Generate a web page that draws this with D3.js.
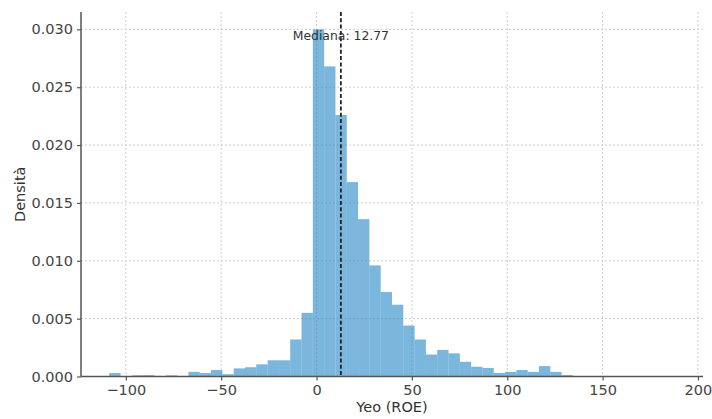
<!DOCTYPE html>
<html>
<head>
<meta charset="utf-8">
<script src="https://cdn.jsdelivr.net/npm/d3@7"></script>
<style>
  body { margin: 0; background: #fff; }
  text { font-family: "DejaVu Sans", sans-serif; }
</style>
</head>
<body>
<script>
// histogram of Yeo-transformed ROE, 50 equal bins
var binMin = -108.67;
var binMax = 187.83;
var densities = [
  0.0003, 0, 0.0001, 0.00012, 0, 0.0001, 0, 0.0004, 0.0003, 0.00056,
  0.0002, 0.0007, 0.0008, 0.00105, 0.0014, 0.0014, 0.0032, 0.0055, 0.0300, 0.0268,
  0.0226, 0.0168, 0.0136, 0.0096, 0.0073, 0.0062, 0.0044, 0.0032, 0.0019, 0.0023,
  0.0020, 0.00127, 0.00084, 0.00074, 0.0003, 0.0004, 0.00056, 0.0004, 0.0009, 0.0004,
  0.00012, 0, 0, 0, 0, 0, 0, 0, 0, 0
];
var xTicks = [-100, -50, 0, 50, 100, 150, 200];
var yTicks = [0, 0.005, 0.010, 0.015, 0.020, 0.025, 0.030];
var median = 12.77;

var width = 712;
var height = 419;
var margin = {top: 12, right: 9, bottom: 42.5, left: 81};

var svg = d3.select('body').append('svg')
    .attr('width', width)
    .attr('height', height);

var span = binMax - binMin;
var x = d3.scaleLinear()
    .domain([binMin - span * 0.05, binMax + span * 0.05])
    .range([margin.left, width - margin.right]);
var y = d3.scaleLinear()
    .domain([0, 0.0300 * 1.05])
    .range([height - margin.bottom, margin.top]);

var bw = span / densities.length;

// grid
svg.append('g').selectAll('line').data(xTicks).enter().append('line')
    .attr('x1', function(d){ return x(d); })
    .attr('x2', function(d){ return x(d); })
    .attr('y1', margin.top)
    .attr('y2', height - margin.bottom)
    .attr('stroke', '#cfcfcf')
    .attr('stroke-width', 1)
    .attr('stroke-dasharray', '2,2');
svg.append('g').selectAll('line').data(yTicks.slice(1)).enter().append('line')
    .attr('x1', margin.left)
    .attr('x2', width - margin.right)
    .attr('y1', function(d){ return y(d); })
    .attr('y2', function(d){ return y(d); })
    .attr('stroke', '#cfcfcf')
    .attr('stroke-width', 1)
    .attr('stroke-dasharray', '2,2');

// bars
svg.append('g').selectAll('rect').data(densities).enter().append('rect')
    .attr('x', function(d, i){ return x(binMin + i * bw); })
    .attr('width', function(d, i){ return x(binMin + (i + 1) * bw) - x(binMin + i * bw); })
    .attr('y', function(d){ return y(d); })
    .attr('height', function(d){ return y(0) - y(d); })
    .attr('fill', '#2386c6')
    .attr('fill-opacity', 0.6);

// median line
svg.append('line')
    .attr('x1', x(median))
    .attr('x2', x(median))
    .attr('y1', margin.top)
    .attr('y2', height - margin.bottom)
    .attr('stroke', '#222')
    .attr('stroke-width', 1.8)
    .attr('stroke-dasharray', '4,2.3');

svg.append('text')
    .attr('x', x(median))
    .attr('y', 40)
    .attr('text-anchor', 'middle')
    .attr('font-size', '12.4px')
    .attr('fill', '#333')
    .text('Mediana: ' + median);

// axes
var xAxis = d3.axisBottom(x).tickValues(xTicks).tickSize(4).tickPadding(4)
    .tickFormat(d3.format('d'));
var yAxis = d3.axisLeft(y).tickValues(yTicks).tickSize(4).tickPadding(4)
    .tickFormat(d3.format('.3f'));

var gx = svg.append('g')
    .attr('transform', 'translate(0,' + (height - margin.bottom) + ')')
    .call(xAxis);
var gy = svg.append('g')
    .attr('transform', 'translate(' + margin.left + ',0)')
    .call(yAxis);

[gx, gy].forEach(function(g){
    g.select('.domain').attr('stroke', '#555').attr('stroke-width', 1.5);
    g.selectAll('.tick line').attr('stroke', '#555').attr('stroke-width', 1.2);
    g.selectAll('.tick text')
        .attr('font-family', '"DejaVu Sans", sans-serif')
        .attr('font-size', '14.5px')
        .attr('fill', '#444');
});
// only left and bottom spines, no end caps
gx.select('.domain').attr('d', 'M' + margin.left + ',0H' + (width - margin.right));
gy.select('.domain').attr('d', 'M0,' + margin.top + 'V' + (height - margin.bottom));

svg.append('text')
    .attr('x', (margin.left + width - margin.right) / 2)
    .attr('y', 412)
    .attr('text-anchor', 'middle')
    .attr('font-size', '14.5px')
    .attr('fill', '#333')
    .text('Yeo (ROE)');

svg.append('text')
    .attr('transform', 'translate(25,' + ((margin.top + height - margin.bottom) / 2) + ') rotate(-90)')
    .attr('text-anchor', 'middle')
    .attr('font-size', '14.5px')
    .attr('fill', '#333')
    .text('Densità');
</script>
</body>
</html>
